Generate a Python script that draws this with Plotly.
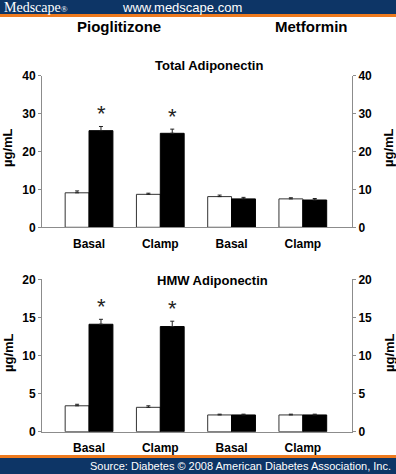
import plotly.graph_objects as go

W, H = 396, 474

# ---- data ----
groups = ["Basal", "Clamp", "Basal", "Clamp"]
group_pos = [1, 2, 3, 4]
total_white = [9.1, 8.7, 8.1, 7.5]
total_white_err = [0.5, 0.3, 0.4, 0.3]
total_black = [25.5, 24.8, 7.5, 7.2]
total_black_err = [1.1, 1.1, 0.4, 0.4]
total_sig = ["*", "*", "", ""]
hmw_white = [3.4, 3.2, 2.2, 2.2]
hmw_white_err = [0.2, 0.2, 0.1, 0.1]
hmw_black = [14.1, 13.8, 2.2, 2.2]
hmw_black_err = [0.65, 0.7, 0.1, 0.1]
hmw_sig = ["*", "*", "", ""]
y_ticks_total = [0, 10, 20, 30, 40]
y_ticks_hmw = [0, 5, 10, 15, 20]


def px(x):
    return x / W


def py(y):
    return 1 - y / H


SANS = "Liberation Sans, Arial, sans-serif"
BOLD = dict(family=SANS, size=12, color="black", weight="bold")
AXIS_GRAY = "#8c8c8c"
BLUE = "#0d3566"
ORANGE = "#ee7a1e"

fig = go.Figure()


def add_bars(xa, ya, white, werr, black, berr):
    fig.add_trace(go.Bar(
        x=group_pos, y=white, xaxis=xa, yaxis=ya,
        marker=dict(color="white", line=dict(color="#333", width=1)),
        error_y=dict(type="data", symmetric=False, array=werr,
                     arrayminus=[0] * len(werr), color="#222", thickness=1, width=2),
        showlegend=False, hoverinfo="skip"))
    fig.add_trace(go.Bar(
        x=group_pos, y=black, xaxis=xa, yaxis=ya,
        marker=dict(color="black", line=dict(color="black", width=1)),
        error_y=dict(type="data", symmetric=False, array=berr,
                     arrayminus=[0] * len(berr), color="#222", thickness=1, width=2),
        showlegend=False, hoverinfo="skip"))


add_bars("x", "y", total_white, total_white_err, total_black, total_black_err)
add_bars("x2", "y2", hmw_white, hmw_white_err, hmw_black, hmw_black_err)
# dummy traces to bind right axes
fig.add_trace(go.Scatter(x=[None], y=[None], xaxis="x", yaxis="y3", showlegend=False))
fig.add_trace(go.Scatter(x=[None], y=[None], xaxis="x2", yaxis="y4", showlegend=False))

xdom = [px(42), px(352)]
top_dom = [py(227.3), py(75.7)]
bot_dom = [py(431.7), py(279.3)]
xrange_ = [0.34, 4.69]

xcommon = dict(domain=xdom, range=xrange_, tickvals=group_pos, ticktext=groups,
               showline=True, linecolor=AXIS_GRAY, linewidth=1, ticks="outside",
               ticklen=5, tickcolor="rgba(0,0,0,0)", tickfont=BOLD, showgrid=False,
               zeroline=False, fixedrange=True, automargin=False)
ycommon = dict(showline=True, linecolor=AXIS_GRAY, linewidth=1, ticks="outside",
               ticklen=3, tickcolor=AXIS_GRAY, tickfont=BOLD, showgrid=False,
               zeroline=False, fixedrange=True, automargin=False)

fig.update_layout(
    width=W, height=H, margin=dict(l=0, r=0, t=0, b=0, autoexpand=False),
    plot_bgcolor="white", paper_bgcolor="white",
    barmode="group", bargap=0.33, bargroupgap=0,
    xaxis=dict(anchor="y", **xcommon),
    xaxis2=dict(anchor="y2", **xcommon),
    yaxis=dict(domain=top_dom, anchor="x", range=[0, 40], tickvals=y_ticks_total, **ycommon),
    yaxis3=dict(domain=top_dom, anchor="x", overlaying="y", side="right", range=[0, 40],
                tickvals=y_ticks_total, **ycommon),
    yaxis2=dict(domain=bot_dom, anchor="x2", range=[0, 20], tickvals=y_ticks_hmw, **ycommon),
    yaxis4=dict(domain=bot_dom, anchor="x2", overlaying="y2", side="right", range=[0, 20],
                tickvals=y_ticks_hmw, **ycommon),
)

shapes = [
    dict(type="rect", xref="paper", yref="paper", x0=0, x1=1, y0=py(14), y1=1,
         fillcolor=BLUE, line_width=0, layer="above"),
    dict(type="rect", xref="paper", yref="paper", x0=0, x1=1, y0=py(17), y1=py(14),
         fillcolor=ORANGE, line_width=0, layer="above"),
    dict(type="rect", xref="paper", yref="paper", x0=0, x1=1, y0=py(458), y1=py(455),
         fillcolor=ORANGE, line_width=0, layer="above"),
    dict(type="rect", xref="paper", yref="paper", x0=0, x1=1, y0=0, y1=py(458),
         fillcolor=BLUE, line_width=0, layer="above"),
]
fig.update_layout(shapes=shapes)

ann = [
    dict(text="Medscape<span style='font-size:9px'>®</span>", x=px(2), y=py(7.5),
         xanchor="left", yanchor="middle",
         font=dict(family="Liberation Serif, Times New Roman, serif", size=14, color="white")),
    dict(text="www.medscape.com", x=px(120), y=py(7), xanchor="left", yanchor="middle",
         font=dict(family=SANS, size=13, color="white")),
    dict(text="Source: Diabetes © 2008 American Diabetes Association, Inc.", x=px(393), y=py(466),
         xanchor="right", yanchor="middle",
         font=dict(family=SANS, size=11, color="white")),
    dict(text="Pioglitizone", x=px(119), y=py(27), xanchor="center", yanchor="middle",
         font=dict(family=SANS, size=15, color="black", weight="bold")),
    dict(text="Metformin", x=px(311), y=py(27), xanchor="center", yanchor="middle",
         font=dict(family=SANS, size=15, color="black", weight="bold")),
    dict(text="Total Adiponectin", x=px(209), y=py(65), xanchor="center", yanchor="middle",
         font=dict(family=SANS, size=13, color="black", weight="bold")),
    dict(text="HMW Adiponectin", x=px(212), y=py(280), xanchor="center", yanchor="middle",
         font=dict(family=SANS, size=13, color="black", weight="bold")),
]
for yc in (148, 353):
    ann.append(dict(text="µg/mL", x=px(8), y=py(yc), xanchor="center", yanchor="middle",
                    textangle=-90, font=dict(family=SANS, size=13, color="black", weight="bold")))
    ann.append(dict(text="µg/mL", x=px(389), y=py(yc), xanchor="center", yanchor="middle",
                    textangle=-90, font=dict(family=SANS, size=13, color="black", weight="bold")))
for a in ann:
    a.update(xref="paper", yref="paper", showarrow=False)

star_font = dict(family=SANS, size=22, color="#222")
for xa, ya, vals, errs, sig in [("x", "y", total_black, total_black_err, total_sig),
                                ("x2", "y2", hmw_black, hmw_black_err, hmw_sig)]:
    for xpos, v, e, s in zip(group_pos, vals, errs, sig):
        if s:
            ann.append(dict(text=s, x=xpos, y=v + e, xref=xa, yref=ya, xshift=12,
                            yshift=-2, xanchor="center", yanchor="bottom",
                            showarrow=False, font=star_font))

fig.update_layout(annotations=ann)
fig.write_html("out.html", config={"displayModeBar": False},
               post_script="document.body.style.margin='0';document.body.style.overflow='hidden';")
